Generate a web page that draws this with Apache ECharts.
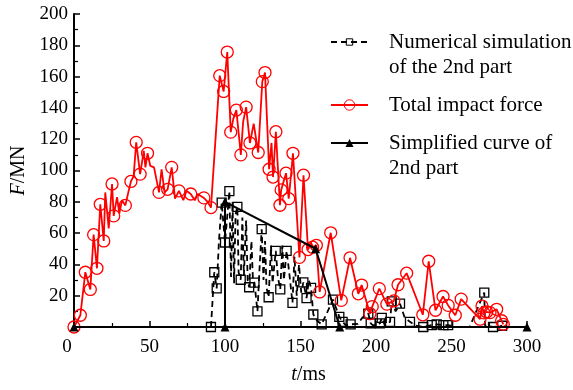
<!DOCTYPE html>
<html>
<head>
<meta charset="utf-8">
<script src="https://cdn.jsdelivr.net/npm/echarts@6/dist/echarts.min.js"></script>
<style>
  html, body { margin: 0; padding: 0; background: #fff; }
  #main { width: 573px; height: 390px; }
</style>
</head>
<body>
<div id="main"></div>
<script>
// t (ms), F (MN) -- points carrying a marker
const totalMarked = [
  [0, 0], [4.2, 7.5], [7.5, 35], [10.8, 24], [13, 59], [15.2, 37.5], [17.4, 78.4], [19.7, 55],
  [25.2, 91.4], [26.3, 71], [34, 77.7], [37.7, 93], [41.2, 118], [43.8, 97.7], [48.7, 111],
  [56.3, 86], [62, 88], [64.7, 102], [69.5, 87], [77.3, 85], [86, 82.5], [90.7, 76.3],
  [96.5, 160.6], [99.1, 150.5], [101.5, 175.7], [103.8, 124.5], [107.5, 138.6], [110.5, 110],
  [114, 140.5], [116.5, 117.6], [122, 111.5], [124.7, 156.8], [126.5, 162.6], [129.2, 100.8],
  [131.8, 95.8], [133.7, 124.8], [136.4, 77.8], [137.2, 87.6], [140.4, 98.3], [142.2, 82],
  [145, 111], [149.3, 44.5], [152, 97], [155, 49.5], [158, 51], [160.5, 52.2], [162.7, 22.4],
  [170, 60.2], [177, 17], [182.8, 44.2], [188.3, 21.2], [190.5, 26.8], [196, 8.5], [197.5, 13],
  [202.2, 24.5], [207.2, 14.6], [211.8, 16.7], [214.6, 27], [220.3, 34.4], [231, 7.8],
  [234.9, 42], [239.4, 10.7], [244.4, 19.5], [247.8, 13.8], [252.5, 7.5], [256.4, 17.8],
  [268.9, 5], [270.2, 13.4], [271.5, 9], [273.3, 9.6], [275.5, 9.2], [279.9, 11.3],
  [283.2, 4], [284.3, 1.7]
];
// extra vertices of the red curve without a marker
const totalExtra = [
  [20.7, 86], [23, 63], [28.5, 83], [30, 72.5], [31.8, 81], [36.2, 87], [39.5, 96.5],
  [46.2, 112.5], [47.3, 102], [50.5, 103], [53, 102], [58, 100.8], [60, 86], [66.9, 82],
  [72.4, 81], [74.5, 87], [80, 81], [82, 85], [88.5, 80], [105.5, 133], [112, 131], [119, 130],
  [130.8, 117.6], [144, 100], [157, 54]
];

const numMarked = [
  [90.7, 0], [92.9, 35], [94.5, 24.7], [97.8, 79.5], [100, 54], [102.9, 86.8], [108.2, 76.7],
  [110.4, 30.2], [116, 25.4], [119.5, 28.3], [121.5, 10], [124.3, 62.5], [128.9, 19],
  [133.6, 48.7], [136.6, 24], [140.8, 48.7], [144.7, 15.4], [151.9, 28.5], [154, 18.5],
  [157, 25], [158.5, 8], [164, 1.7], [171.5, 17.5], [175.7, 6.5], [177.9, 3.3], [183.2, 1.7],
  [194.9, 8.6], [196.5, 2.3], [202.6, 2.3], [203.8, 5.8], [209.3, 3.3], [210.4, 16.4],
  [215.9, 14.9], [222.5, 3.3], [231.3, 0], [236.9, 1.2], [240.2, 1.7], [244.6, 1.2],
  [247.8, 1.2], [271.7, 22], [277.5, 0], [283.5, 0.8]
];
const numExtra = [
  [96, 55], [104, 32], [105, 80], [106, 28], [107, 72], [109, 35], [111.5, 70], [112.5, 33],
  [114, 68], [115, 30], [117.5, 55], [118.5, 30], [123, 40], [125.5, 30], [126.5, 55],
  [127.5, 25], [130.5, 52], [131.5, 28], [135, 32], [138, 52], [139, 30], [142.5, 35],
  [146, 45], [147.5, 20], [149, 40], [150.5, 22], [155.5, 30], [161, 4], [168, 10], [180, 1],
  [188, 2], [191, 6], [198, 1], [206, 1], [213, 10], [219, 6], [226, 1], [253, 0], [262, 0],
  [272.2, 1]
];

const simplified = [[0, 0], [100, 0], [100, 80], [160, 50], [176, 0], [300, 0]];

const xTicks = { min: 0, max: 300, interval: 50 };
const yTicks = { min: 0, max: 200, interval: 20 };

const NAME_NUM = 'Numerical simulation of the 2nd part';
const NAME_TOTAL = 'Total impact force';
const NAME_SIMP = 'Simplified curve of 2nd part';
// leading empty line keeps the icon level with the first text line
const legendText = {};
legendText[NAME_NUM] = '\nNumerical simulation\nof the 2nd part';
legendText[NAME_TOTAL] = 'Total impact force';
legendText[NAME_SIMP] = '\nSimplified curve of\n2nd part';

function merge(marked, extra) {
  return marked.map(p => ({ value: p }))
    .concat(extra.map(p => ({ value: p, symbol: 'none' })))
    .sort((a, b) => a.value[0] - b.value[0]);
}

const FONT = 'Liberation Serif';
const chart = echarts.init(document.getElementById('main'));

function legendBox(name, top, itemHeight, itemStyle) {
  return {
    data: [name],
    left: 330,
    top: top,
    padding: 0,
    itemWidth: 37,
    itemHeight: itemHeight,
    formatter: n => legendText[n],
    textStyle: {
      fontFamily: FONT,
      fontSize: 21,
      lineHeight: 25,
      color: '#000',
      padding: [0, 0, 0, 16]
    },
    itemStyle: itemStyle
  };
}

const option = {
  animation: false,
  backgroundColor: '#fff',
  grid: { left: 74, right: 46, top: 14, bottom: 58 },
  legend: [
    legendBox(NAME_NUM, 4.5, 8, { color: 'transparent', borderColor: '#000', borderWidth: 1 }),
    legendBox(NAME_TOTAL, 92.5, 13, { color: 'transparent', borderColor: '#ff0000', borderWidth: 1 }),
    legendBox(NAME_SIMP, 105.5, 10, { color: '#000', borderWidth: 0 })
  ],
  xAxis: {
    type: 'value',
    min: xTicks.min,
    max: xTicks.max,
    interval: xTicks.interval,
    name: '{i|t}/ms',
    nameLocation: 'middle',
    nameGap: 38,
    nameTextStyle: {
      fontFamily: FONT, fontSize: 20, color: '#000', padding: [0, 0, 0, 16],
      rich: { i: { fontFamily: FONT, fontSize: 20, fontStyle: 'italic', color: '#000' } }
    },
    axisLine: { lineStyle: { color: '#000', width: 2 } },
    axisTick: { inside: true, length: 6, lineStyle: { color: '#000', width: 1.5 } },
    minorTick: { show: true, splitNumber: 2, length: 4, lineStyle: { color: '#000', width: 1.2 } },
    splitLine: { show: false },
    axisLabel: {
      fontFamily: FONT, fontSize: 19, color: '#000', margin: 11,
      formatter: v => (v === 0 ? '{o|0}' : String(v)),
      rich: { o: { fontFamily: FONT, fontSize: 19, color: '#000', padding: [0, 14, 6, 0] } }
    }
  },
  yAxis: {
    type: 'value',
    min: yTicks.min,
    max: yTicks.max,
    interval: yTicks.interval,
    name: '{i|F}/MN',
    nameLocation: 'middle',
    nameGap: 45,
    nameRotate: 90,
    nameTextStyle: {
      fontFamily: FONT, fontSize: 20, color: '#000',
      rich: { i: { fontFamily: FONT, fontSize: 20, fontStyle: 'italic', color: '#000' } }
    },
    axisLine: { show: true, lineStyle: { color: '#000', width: 2 } },
    axisTick: { show: true, inside: true, length: 6, lineStyle: { color: '#000', width: 1.5 } },
    minorTick: { show: true, splitNumber: 2, length: 4, lineStyle: { color: '#000', width: 1.2 } },
    splitLine: { show: false },
    axisLabel: {
      fontFamily: FONT, fontSize: 19, color: '#000', margin: 6,
      formatter: v => (v === 0 ? '' : String(v))
    }
  },
  series: [
    {
      name: NAME_NUM,
      type: 'line',
      clip: false,
      data: merge(numMarked, numExtra),
      symbol: 'rect',
      symbolSize: 9,
      lineStyle: { color: '#000', width: 1.8, type: [6, 4] },
      itemStyle: { color: 'transparent', borderColor: '#000', borderWidth: 1.3 },
      z: 2
    },
    {
      name: NAME_TOTAL,
      type: 'line',
      clip: false,
      data: merge(totalMarked, totalExtra),
      symbol: 'circle',
      symbolSize: 12,
      lineStyle: { color: '#ff0000', width: 1.8 },
      itemStyle: { color: 'transparent', borderColor: '#ff0000', borderWidth: 1.3 },
      z: 3
    },
    {
      name: NAME_SIMP,
      type: 'line',
      clip: false,
      data: simplified,
      symbol: 'triangle',
      symbolSize: 9,
      lineStyle: { color: '#000', width: 2 },
      itemStyle: { color: '#000' },
      z: 4
    }
  ]
};

chart.setOption(option);
</script>
</body>
</html>
